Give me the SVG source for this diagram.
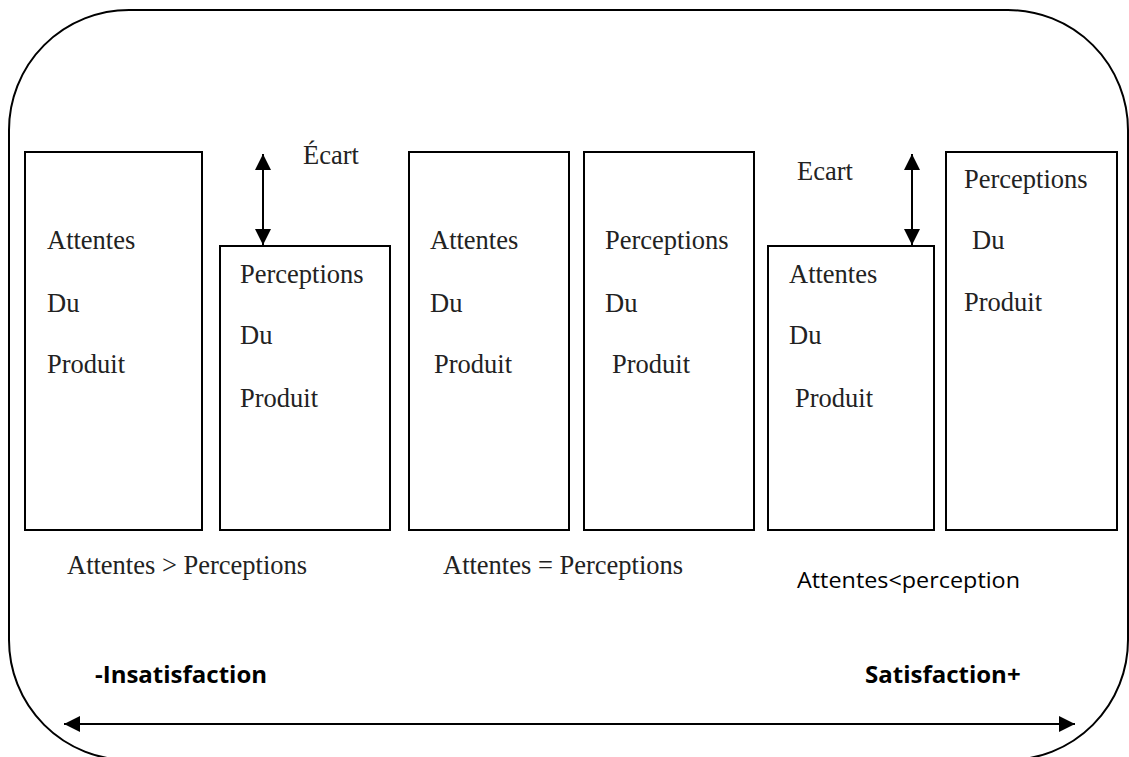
<svg xmlns="http://www.w3.org/2000/svg" width="1129" height="757" viewBox="0 0 1129 757">
<style>
.frame{fill:none;stroke:#000;stroke-width:2}
.box{fill:#fff;stroke:#000;stroke-width:2}
.t{font-family:"Liberation Serif","Times New Roman",serif;font-size:26.5px;fill:#222}
.s{font-family:"Open Sans","Liberation Sans",sans-serif;font-size:21px;fill:#000}
.b{font-family:"Open Sans","Liberation Sans",sans-serif;font-size:24px;font-weight:bold;fill:#000}
.ln{stroke:#000;stroke-width:2;fill:none}
</style>
<defs>
<marker id="ah2" viewBox="0 0 10 10" refX="10" refY="5" markerWidth="16" markerHeight="16" markerUnits="userSpaceOnUse" orient="auto-start-reverse">
<path d="M0,0 L10,5 L0,10 z" fill="#000"/>
</marker>
</defs>
<rect class="frame" x="9" y="10" width="1119" height="750" rx="120" ry="120"/>
<g id="n1"><rect class="box" x="25" y="152" width="177" height="378"/>
<text class="t" x="47" y="249">Attentes</text><text class="t" x="47" y="312">Du</text><text class="t" x="47" y="373">Produit</text></g>
<g id="n2"><rect class="box" x="220" y="246" width="170" height="284"/>
<text class="t" x="240" y="283">Perceptions</text><text class="t" x="240" y="344">Du</text><text class="t" x="240" y="407">Produit</text></g>
<g id="n3"><rect class="box" x="409" y="152" width="160" height="378"/>
<text class="t" x="430" y="249">Attentes</text><text class="t" x="430" y="312">Du</text><text class="t" x="434" y="373">Produit</text></g>
<g id="n4"><rect class="box" x="584" y="152" width="170" height="378"/>
<text class="t" x="605" y="249">Perceptions</text><text class="t" x="605" y="312">Du</text><text class="t" x="612" y="373">Produit</text></g>
<g id="n5"><rect class="box" x="768" y="246" width="166" height="284"/>
<text class="t" x="789" y="283">Attentes</text><text class="t" x="789" y="344">Du</text><text class="t" x="795" y="407">Produit</text></g>
<g id="n6"><rect class="box" x="946" y="152" width="171" height="378"/>
<text class="t" x="964" y="188">Perceptions</text><text class="t" x="972" y="249">Du</text><text class="t" x="964" y="311">Produit</text></g>
<g id="connectors">
<line class="ln" x1="263" y1="154" x2="263" y2="245" marker-start="url(#ah2)" marker-end="url(#ah2)"/>
<line class="ln" x1="912" y1="154" x2="912" y2="245" marker-start="url(#ah2)" marker-end="url(#ah2)"/>
<line class="ln" x1="64" y1="724" x2="1075" y2="724" marker-start="url(#ah2)" marker-end="url(#ah2)"/>
</g>
<g id="labels">
<text class="t" x="303" y="164">Écart</text>
<text class="t" x="797" y="180">Ecart</text>
<text class="t" x="67" y="574">Attentes &gt; Perceptions</text>
<text class="t" x="443" y="574">Attentes = Perceptions</text>
<text class="s" x="797" y="588" textLength="223" lengthAdjust="spacingAndGlyphs">Attentes&lt;perception</text>
<text class="b" x="95" y="683">-Insatisfaction</text>
<text class="b" x="865" y="683">Satisfaction+</text>
</g>
</svg>
